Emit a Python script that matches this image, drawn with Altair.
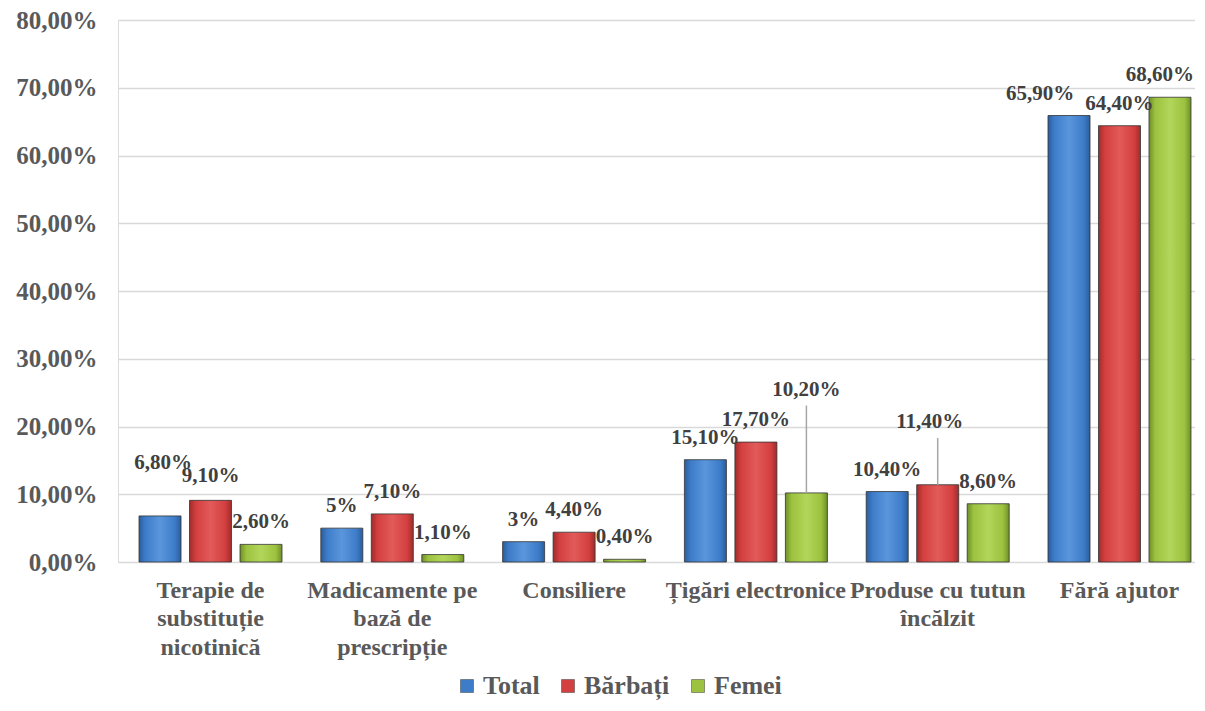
import altair as alt
import pandas as pd

categories = [
    "Terapie de\nsubstituție\nnicotinică",
    "Madicamente pe\nbază de\nprescripție",
    "Consiliere",
    "Țigări electronice",
    "Produse cu tutun\nîncălzit",
    "Fără ajutor",
]
series = ["Total", "Bărbați", "Femei"]
total = [6.8, 5.0, 3.0, 15.1, 10.4, 65.9]
barbati = [9.1, 7.1, 4.4, 17.7, 11.4, 64.4]
femei = [2.6, 1.1, 0.4, 10.2, 8.6, 68.6]
total_lbl = ["6,80%", "5%", "3%", "15,10%", "10,40%", "65,90%"]
barbati_lbl = ["9,10%", "7,10%", "4,40%", "17,70%", "11,40%", "64,40%"]
femei_lbl = ["2,60%", "1,10%", "0,40%", "10,20%", "8,60%", "68,60%"]
# extra lift of the data label above its bar (percentage points), as in the reference
total_lift = [4.5, 0, 0, 0, 0, 0]
barbati_lift = [0.3, 0, 0, 0, 6, 0]
femei_lift = [0, 0, 0, 12, 0, 0]
# sideways nudge of a data label (px), as in the reference
total_dx = [3, 0, 0, 0, 0, -29]
barbati_dx = [0, 0, 0, 0, -8, 0]
femei_dx = [0, 0, 0, 0, 0, -10]

rows = []
for vals, lbls, lifts, dxs, s in [(total, total_lbl, total_lift, total_dx, "Total"),
                                  (barbati, barbati_lbl, barbati_lift, barbati_dx, "Bărbați"),
                                  (femei, femei_lbl, femei_lift, femei_dx, "Femei")]:
    for c, v, l, lf, d in zip(categories, vals, lbls, lifts, dxs):
        rows.append({"cat": c, "series": s, "value": v, "label": l,
                     "lab_y": v + lf, "lead": lf > 5, "dx": d})
df = pd.DataFrame(rows)

base_colors = ["#3d7cc9", "#d43f3f", "#9cc23f"]
grads = {
    "Total": ["#2b5d9c", "#3d7cc9", "#5a96dc", "#3d7cc9", "#2b5d9c"],
    "Bărbați": ["#9e2c2c", "#d43f3f", "#e25a5a", "#d43f3f", "#9e2c2c"],
    "Femei": ["#6e8f2a", "#9cc23f", "#b2d65a", "#9cc23f", "#6e8f2a"],
}

FONT = "Liberation Serif"

x_scale = alt.Scale(paddingInner=0.2134, paddingOuter=0.0688, align=0.84)
x_enc = alt.X("cat:N", sort=categories, title=None, scale=x_scale,
              axis=alt.Axis(labelAngle=0, labelFontSize=24, labelFont=FONT, labelFontWeight="bold",
                            labelColor="#595959", labelExpr="split(datum.label, '\\n')",
                            labelLineHeight=28.5, labelPadding=16, ticks=False, domain=False,
                            labelLimit=300))
xo_scale = alt.Scale(domain=series, paddingInner=0.168)
xo_enc = alt.XOffset("series:N", sort=series, scale=xo_scale)
y_enc = alt.Y("value:Q", title=None,
              scale=alt.Scale(domain=[0, 80]),
              axis=alt.Axis(values=[0, 10, 20, 30, 40, 50, 60, 70, 80],
                            labelExpr="replace(format(datum.value, '.2f'), '.', ',') + '%'",
                            labelFontSize=25, labelFont=FONT, labelFontWeight="bold",
                            labelColor="#595959", labelPadding=21, ticks=False, domain=False,
                            gridColor="#d9d9d9", gridWidth=1.5))
color_enc = alt.Color("series:N", sort=series,
                      scale=alt.Scale(domain=series, range=base_colors),
                      legend=alt.Legend(title=None, orient="none", direction="horizontal",
                                        legendX=336, legendY=653,
                                        labelFont=FONT, labelFontSize=26, labelFontWeight="bold",
                                        labelColor="#595959", symbolType="square", symbolSize=169,
                                        symbolStrokeColor="#404040", symbolStrokeWidth=0.5,
                                        columnPadding=15, labelOffset=3))

layers = []
for s in series:
    g = grads[s]
    grad = alt.Gradient(gradient="linear", x1=0, x2=1, y1=0, y2=0,
                        stops=[alt.GradientStop(color=g[0], offset=0),
                               alt.GradientStop(color=g[1], offset=0.15),
                               alt.GradientStop(color=g[2], offset=0.5),
                               alt.GradientStop(color=g[3], offset=0.85),
                               alt.GradientStop(color=g[4], offset=1)])
    layers.append(
        alt.Chart(df).transform_filter(alt.datum.series == s)
        .mark_bar(fill=grad, stroke="#333333", strokeWidth=0.8)
        .encode(x=x_enc, xOffset=xo_enc, y=y_enc, color=color_enc)
    )

leaders = alt.Chart(df).transform_filter(alt.datum.lead).transform_calculate(
    lead_end="datum.lab_y + 0.9"
).mark_rule(color="#a6a6a6", strokeWidth=1.5).encode(
    x=alt.X("cat:N", sort=categories, scale=x_scale),
    xOffset=alt.XOffset("series:N", sort=series, scale=xo_scale),
    y="value:Q",
    y2="lead_end:Q",
)

label_layers = []
for d in sorted(set(df["dx"])):
    label_layers.append(
        alt.Chart(df).transform_filter(alt.datum.dx == int(d))
        .mark_text(font=FONT, fontSize=21, fontWeight="bold", color="#404040",
                   baseline="bottom", dy=-12, dx=int(d))
        .encode(
            x=alt.X("cat:N", sort=categories, scale=x_scale),
            xOffset=alt.XOffset("series:N", sort=series, scale=xo_scale),
            y="lab_y:Q",
            text="label:N",
        )
    )

chart = alt.layer(*layers, leaders, *label_layers).properties(
    width=1077, height=542,
    autosize=alt.AutoSizeParams(type="none"),
    padding={"left": 110, "top": 12, "right": 0, "bottom": 141},
).configure_view(strokeWidth=0).configure(background="white")

chart.save("out.html", embed_options={"renderer": "svg", "actions": False})
